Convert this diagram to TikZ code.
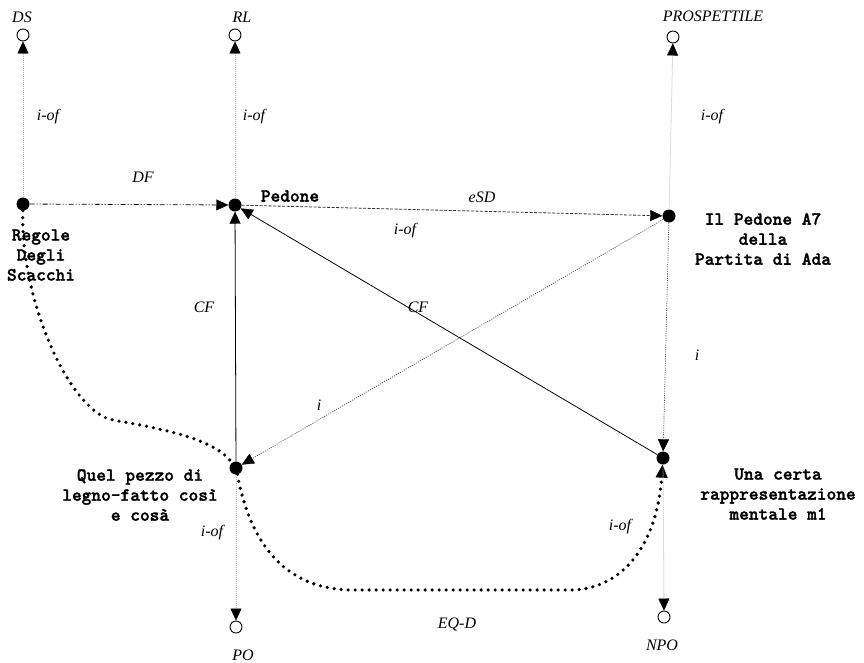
\documentclass[tikz,border=0pt]{standalone}
\usepackage{fontspec}
\setmainfont{Liberation Serif}
\newfontfamily\courbf[FakeBold=1.6]{lmmonolt10-bold.otf}
\usetikzlibrary{arrows.meta}
\begin{document}
\begin{tikzpicture}[x=1pt,y=-1pt,
  dot/.style={circle,fill=black,minimum size=13pt,inner sep=0pt},
  ocirc/.style={circle,draw=black,fill=white,line width=0.9pt,minimum size=12pt,inner sep=0pt},
  lab/.style={font=\fontsize{16}{19}\selectfont\itshape,inner sep=0pt},
  txt/.style={font=\fontsize{18.5}{20}\selectfont\courbf,align=center,inner sep=0pt},
  tip/.style={-{Triangle[length=12pt,width=11pt,line width=0.4pt,color=black]}},
  iof/.style={tip,draw=gray!55,line width=0.8pt,dash pattern=on 1pt off 1pt},
  dfline/.style={tip,draw=black,line width=0.8pt,dash pattern=on 5pt off 2pt on 1pt off 2pt on 1pt off 2pt},
  esdline/.style={tip,draw=black!80,line width=0.8pt,dash pattern=on 3pt off 1.5pt},
  idot/.style={tip,draw=black!75,line width=0.7pt,dash pattern=on 1pt off 1.3pt},
  cfline/.style={tip,draw=black,line width=0.8pt},
  bigdot/.style={draw=black,line width=3.6pt,line cap=round,dash pattern=on 0pt off 7pt}
]
\useasboundingbox (0,0) rectangle (864,662);

% main nodes (dots)
\node[dot] (Regole) at (23,204) {};
\node[dot] (Pedone) at (235,205) {};
\node[dot] (IlPedone) at (669,216) {};
\node[dot] (Quel) at (236,468) {};
\node[dot] (Una) at (663,458) {};

% open circles
\node[ocirc] (DS) at (23,35) {};
\node[ocirc] (RL) at (235,35) {};
\node[ocirc] (PROS) at (673,37) {};
\node[ocirc] (PO) at (236,627) {};
\node[ocirc] (NPO) at (664,617) {};

% type labels
\node[lab] (tDS) at (22,17) {DS};
\node[lab] (tRL) at (242,17) {RL};
\node[lab] (tPROS) at (713,16) {PROSPETTILE};
\node[lab] (tPO) at (243,655) {PO};
\node[lab] (tNPO) at (662,645) {NPO};

% node texts
\node[txt] (xRegole) at (41,255) {Regole\\Degli\\Scacchi};
\node[txt] (xPedone) at (290,196) {Pedone};
\node[txt] (xIlPedone) at (763,239) {Il Pedone A7\\della\\Partita di Ada};
\node[txt] (xQuel) at (140,495) {Quel pezzo di\\legno-fatto così\\e cosà};
\node[txt] (xUna) at (778,494) {Una certa\\rappresentazione\\mentale m1};

% thick dotted curves
\draw[bigdot] (Regole) .. controls (20,300) and (70,412) .. (113,420)
  .. controls (170,430) and (215,440) .. (Quel);
\draw[bigdot,-{Triangle[length=13pt,width=12pt,line width=0.4pt,color=black]}]
  (Quel) .. controls (248,530) and (275,588) .. (350,590) -- (570,590)
  .. controls (622,590) and (657,545) .. (Una);

% instance-of lines
\draw[iof] (Regole) -- (DS);
\draw[iof] (Pedone) -- (RL);
\draw[iof] (IlPedone) -- (PROS);
\draw[iof] (Quel) -- (PO);
\draw[iof] (Una) -- (NPO);

% relations
\draw[dfline] (Regole) -- (Pedone);
\draw[esdline] (Pedone) -- (IlPedone);
\draw[idot] (IlPedone) -- (Quel);
\draw[idot] (IlPedone) -- (Una);
\draw[cfline] (Quel) -- (Pedone);
\draw[cfline] (Una) -- (Pedone);

% edge labels
\node[lab] (l1) at (48,117) {i-of};
\node[lab] (l2) at (254,117) {i-of};
\node[lab] (l3) at (712,117) {i-of};
\node[lab] (l4) at (143,177) {DF};
\node[lab] (l5) at (482,197) {eSD};
\node[lab] (l6) at (405,231) {i-of};
\node[lab] (l7) at (204,307) {CF};
\node[lab] (l8) at (418,307) {CF};
\node[lab] (l9) at (319,405) {i};
\node[lab] (l10) at (697,355) {i};
\node[lab] (l11) at (212,533) {i-of};
\node[lab] (l12) at (620,527) {i-of};
\node[lab] (l13) at (457,624) {EQ-D};
\end{tikzpicture}
\end{document}
